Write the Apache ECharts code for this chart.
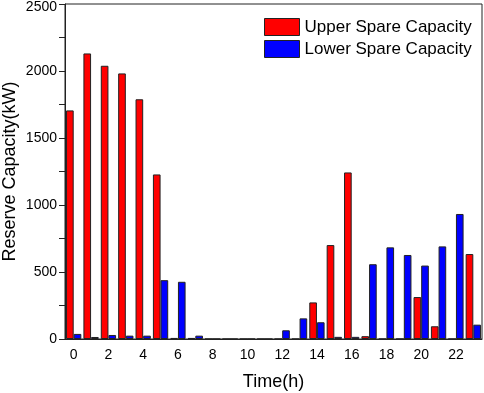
<!DOCTYPE html>
<html>
<head>
<meta charset="utf-8">
<script src="https://cdn.jsdelivr.net/npm/echarts@6/dist/echarts.min.js"></script>
<style>
	html, body { margin: 0; padding: 0; background: #fff; }
	#main { width: 484px; height: 393px; }
</style>
</head>
<body>
<div id="main"></div>
<script>
	var hours = ['0', '1', '2', '3', '4', '5', '6', '7', '8', '9', '10', '11',
		'12', '13', '14', '15', '16', '17', '18', '19', '20', '21', '22', '23'];
	var upperSpare = [1706, 2131, 2039, 1982, 1789, 1228, 8, 8, 0, 0, 0, 0,
		0, 0, 273, 701, 1243, 21, 0, 0, 313, 95, 0, 634];
	var lowerSpare = [38, 15, 30, 25, 25, 439, 427, 25, 0, 0, 0, 0,
		65, 154, 125, 16, 16, 558, 684, 627, 548, 691, 933, 107];

	var myChart = echarts.init(document.getElementById('main'));
	var option = {
		animation: false,
		textStyle: {
			fontFamily: 'Liberation Sans, Arial, sans-serif'
		},
		grid: {
			left: 65,
			right: 2,
			top: 4,
			bottom: 54,
			outerBoundsMode: 'none',
			containLabel: false,
			show: true,
			borderColor: '#222',
			borderWidth: 1
		},
		legend: {
			top: 13,
			left: 259,
			orient: 'vertical',
			icon: 'rect',
			itemWidth: 35,
			itemHeight: 17,
			itemGap: 4,
			itemStyle: {
				borderColor: '#222',
				borderWidth: 1
			},
			textStyle: {
				fontSize: 17,
				color: '#000'
			},
			data: ['Upper Spare Capacity', 'Lower Spare Capacity']
		},
		xAxis: {
			type: 'category',
			data: hours,
			name: 'Time(h)',
			nameLocation: 'middle',
			nameGap: 34,
			nameMoveOverlap: false,
			nameTextStyle: {
				fontSize: 18,
				color: '#000'
			},
			axisLine: { lineStyle: { color: '#222' } },
			axisTick: {
				alignWithLabel: true,
				interval: 0,
				length: 5,
				lineStyle: { color: '#222' }
			},
			axisLabel: {
				interval: 1,
				fontSize: 14,
				color: '#000',
				margin: 9
			},
			splitLine: { show: false }
		},
		yAxis: {
			type: 'value',
			min: 0,
			max: 2500,
			interval: 500,
			name: 'Reserve Capacity(kW)',
			nameLocation: 'middle',
			nameGap: 46,
			nameMoveOverlap: false,
			nameTextStyle: {
				fontSize: 18,
				color: '#000'
			},
			axisLine: { show: true, lineStyle: { color: '#222' } },
			axisTick: { show: true, length: 6, lineStyle: { color: '#222' } },
			minorTick: { show: true, splitNumber: 2, length: 6, lineStyle: { color: '#222' } },
			axisLabel: {
				fontSize: 14,
				color: '#000',
				margin: 8,
				formatter: function(v) {
					// the top label sits a little lower in the original
					return v === 2500 ? '{top|' + v + '}' : String(v);
				},
				rich: {
					top: { fontSize: 14, color: '#000', padding: [6, 0, 0, 0] }
				}
			},
			splitLine: { show: false }
		},
		series: [{
			name: 'Upper Spare Capacity',
			type: 'bar',
			barWidth: '44%',
			barGap: '0%',
			itemStyle: {
				color: '#ff0000',
				borderColor: '#222',
				borderWidth: 1
			},
			data: upperSpare
		}, {
			name: 'Lower Spare Capacity',
			type: 'bar',
			barWidth: '44%',
			barGap: '0%',
			itemStyle: {
				color: '#0000ff',
				borderColor: '#222',
				borderWidth: 1
			},
			data: lowerSpare
		}]
	};
	myChart.setOption(option);
</script>
</body>
</html>
